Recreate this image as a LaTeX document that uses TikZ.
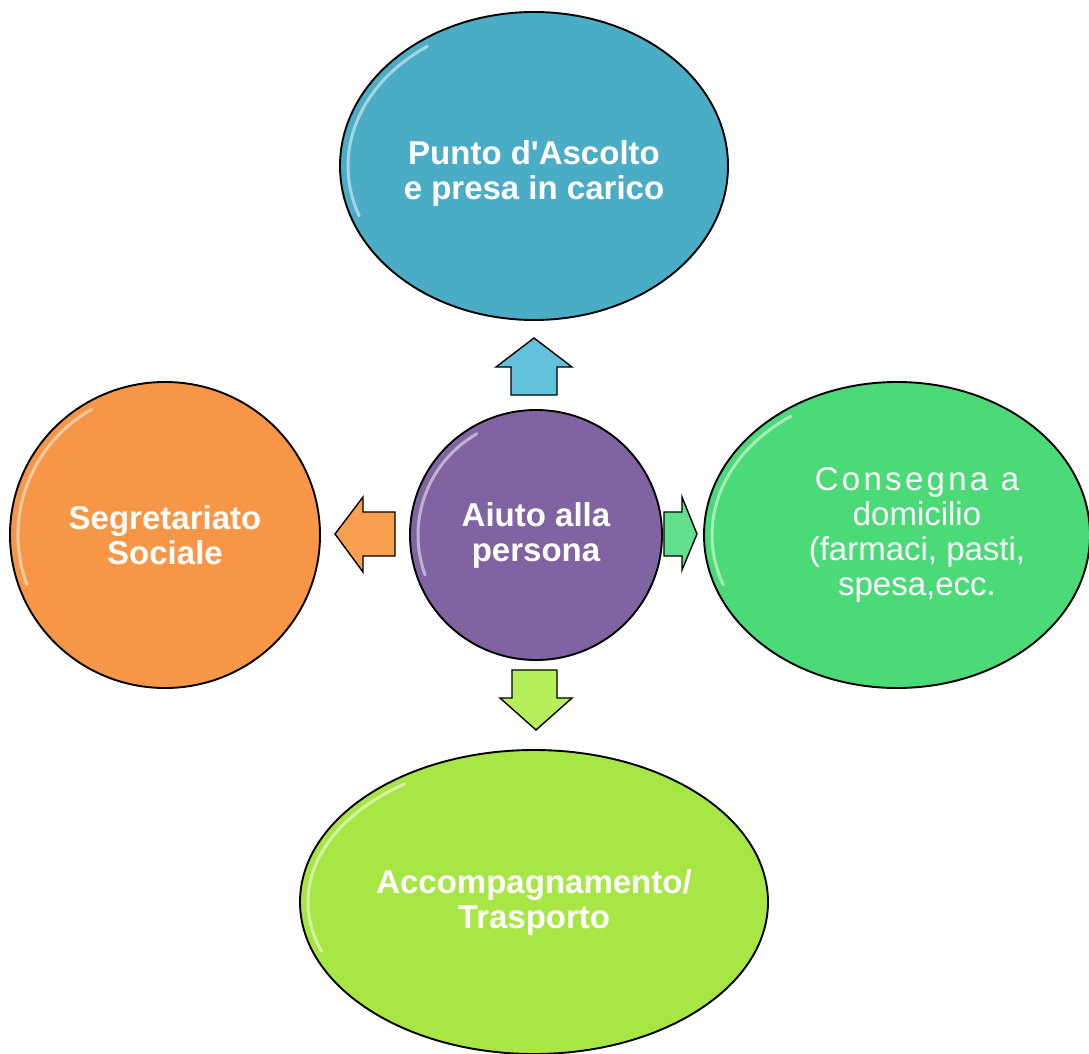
\documentclass[tikz,border=0pt]{standalone}
\usepackage{fontspec}
\setmainfont{Liberation Sans}
\usetikzlibrary{shapes.geometric}
\definecolor{cblue}{HTML}{4BACC6}
\definecolor{corange}{HTML}{F79646}
\definecolor{cpurple}{HTML}{8064A2}
\definecolor{cgreen}{HTML}{4CDA78}
\definecolor{clime}{HTML}{A8E646}
\definecolor{ablue}{HTML}{62C2DC}
\definecolor{aorange}{HTML}{F9A050}
\definecolor{agreen}{HTML}{62E08E}
\definecolor{alime}{HTML}{B6EE5C}
\tikzset{
  ell/.style={ellipse, draw=black, line width=1.9pt, inner sep=0pt, text=white,
    align=center, font=\fontsize{33}{35}\selectfont},
  hl/.style={white, opacity=0.5, line width=3pt, line cap=round},
  blk/.style={draw=black, line width=1.4pt, line join=miter}
}
\begin{document}
\begin{tikzpicture}[x=1pt,y=-1pt]
\useasboundingbox[fill=white] (0,0) rectangle (1089,1054);
% ellipses
\node[ell, fill=cblue, minimum width=388pt, minimum height=308pt] (top) at (534,166)
  {\rule{0pt}{38pt}\bfseries Punto d\textquotesingle Ascolto\\\bfseries e presa in carico};
\node[ell, fill=corange, minimum width=310pt, minimum height=306pt] (left) at (165,535)
  {\bfseries Segretariato\\\bfseries Sociale};
\node[ell, fill=cgreen, minimum width=386pt, minimum height=306pt] (right) at (897,535)
  {\hspace*{40pt}{\addfontfeature{LetterSpace=10}Consegna a}\\\hspace*{40pt}domicilio\\\hspace*{40pt}(farmaci, pasti,\\\hspace*{40pt}spesa,ecc.};
\node[ell, fill=clime, minimum width=468pt, minimum height=304pt] (bottom) at (534,902)
  {\bfseries Accompagnamento/\\\bfseries Trasporto};
\node[ell, fill=cpurple, minimum width=252pt, minimum height=250pt] (center) at (536,535)
  {\bfseries Aiuto alla\\\bfseries persona};
% highlights
\draw[hl] (534,166) ++(160:186 and 146) arc[start angle=160, end angle=235, x radius=186, y radius=146];
\draw[hl] (165,535) ++(160:147 and 145) arc[start angle=160, end angle=240, x radius=147, y radius=145];
\draw[hl] (897,535) ++(160:185 and 145) arc[start angle=160, end angle=235, x radius=185, y radius=145];
\draw[hl] (534,902) ++(160:226 and 144) arc[start angle=160, end angle=235, x radius=226, y radius=144];
\draw[hl] (536,535) ++(160:118 and 117) arc[start angle=160, end angle=240, x radius=118, y radius=117];
% block arrows
\draw[blk, fill=ablue] (534,338) -- (572,367) -- (557,367) -- (557,395) -- (511,395) -- (511,367) -- (496,367) -- cycle;
\draw[blk, fill=aorange] (335,534) -- (363,497) -- (363,512) -- (395,512) -- (395,556) -- (363,556) -- (363,572) -- cycle;
\draw[blk, fill=agreen] (697,534) -- (682,497) -- (682,512) -- (664,512) -- (664,556) -- (682,556) -- (682,570) -- cycle;
\draw[blk, fill=alime] (536,730) -- (572,698) -- (557,698) -- (557,670) -- (512,670) -- (512,698) -- (500,698) -- cycle;
\end{tikzpicture}
\end{document}
